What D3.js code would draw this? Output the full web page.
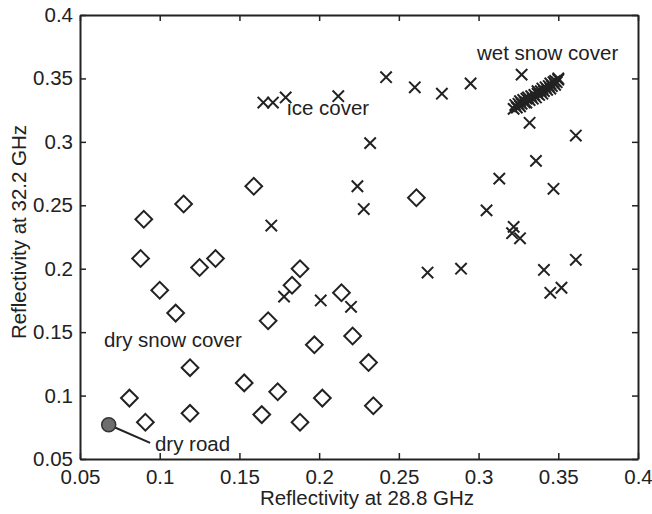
<html lang="en"><head>
<meta charset="utf-8">
<script src="https://d3js.org/d3.v7.min.js"></script>
<title>Reflectivity scatter</title>
<style>
  body { margin: 0; background: #fff; }
  text { font-family: "Liberation Sans", Arial, sans-serif; fill: #222; }
</style>
</head>
<body>
<div id="my_dataviz"></div>
<script>

// dry snow cover (diamonds): reflectivity at 28.8 GHz / 32.2 GHz
const drySnowX = [0.090, 0.115, 0.159, 0.088, 0.125, 0.135, 0.100, 0.110, 0.188, 0.183,
                  0.168, 0.197, 0.214, 0.221, 0.231, 0.119, 0.153, 0.174, 0.202, 0.081,
                  0.091, 0.119, 0.164, 0.188, 0.234, 0.261];
const drySnowY = [0.239, 0.251, 0.265, 0.208, 0.201, 0.208, 0.183, 0.165, 0.200, 0.187,
                  0.159, 0.140, 0.181, 0.147, 0.126, 0.122, 0.110, 0.103, 0.098, 0.098,
                  0.079, 0.086, 0.085, 0.079, 0.092, 0.256];

// ice cover (crosses)
const iceX = [0.165, 0.171, 0.179, 0.212, 0.242, 0.260, 0.277, 0.295, 0.327, 0.232,
              0.332, 0.361, 0.336, 0.313, 0.347, 0.224, 0.228, 0.305, 0.322, 0.321,
              0.326, 0.170, 0.268, 0.289, 0.341, 0.361, 0.345, 0.352, 0.178, 0.201,
              0.220];
const iceY = [0.331, 0.331, 0.335, 0.336, 0.351, 0.343, 0.338, 0.346, 0.353, 0.299,
              0.315, 0.305, 0.285, 0.271, 0.263, 0.265, 0.247, 0.246, 0.233, 0.228,
              0.224, 0.234, 0.197, 0.200, 0.199, 0.207, 0.181, 0.185, 0.178, 0.175,
              0.170];

// wet snow cover (dense crosses)
const wetX = [0.322, 0.323, 0.324, 0.325, 0.326, 0.326, 0.327, 0.328, 0.329, 0.330,
              0.330, 0.331, 0.332, 0.333, 0.334, 0.335, 0.336, 0.337, 0.337, 0.338,
              0.339, 0.340, 0.340, 0.341, 0.342, 0.343, 0.344, 0.345, 0.345, 0.346,
              0.347, 0.348, 0.348, 0.349, 0.350, 0.350];
const wetY = [0.326, 0.329, 0.327, 0.330, 0.328, 0.332, 0.330, 0.333, 0.331, 0.334,
              0.331, 0.335, 0.333, 0.336, 0.334, 0.337, 0.335, 0.338, 0.340, 0.337,
              0.340, 0.338, 0.342, 0.340, 0.343, 0.341, 0.344, 0.342, 0.346, 0.344,
              0.347, 0.345, 0.348, 0.347, 0.349, 0.350];

// dry road
const dryRoad = [0.068, 0.077];

const tickValues = [0.05, 0.1, 0.15, 0.2, 0.25, 0.3, 0.35, 0.4];
const tickLabels = ["0.05", "0.1", "0.15", "0.2", "0.25", "0.3", "0.35", "0.4"];

const margin = {top: 15, right: 14, bottom: 55, left: 80},
      width = 652 - margin.left - margin.right,
      height = 514 - margin.top - margin.bottom;

const fontSize = "20.5px";

const svg = d3.select("#my_dataviz")
  .append("svg")
    .attr("width", 652)
    .attr("height", 514)
  .append("g")
    .attr("transform", `translate(${margin.left},${margin.top})`);

const x = d3.scaleLinear().domain([0.05, 0.4]).range([0, width]);
const y = d3.scaleLinear().domain([0.05, 0.4]).range([height, 0]);
const fmt = d => tickLabels[tickValues.indexOf(d)];

// axes, matlab style box with inward ticks
const xAxis = svg.append("g")
  .attr("transform", `translate(0,${height})`)
  .call(d3.axisBottom(x).tickValues(tickValues).tickFormat(fmt).tickSizeInner(-6).tickSizeOuter(0).tickPadding(10));
const yAxis = svg.append("g")
  .call(d3.axisLeft(y).tickValues(tickValues).tickFormat(fmt).tickSizeInner(-6).tickSizeOuter(0).tickPadding(7));
const topAxis = svg.append("g")
  .call(d3.axisTop(x).tickValues(tickValues).tickFormat("").tickSizeInner(-6).tickSizeOuter(0));
const rightAxis = svg.append("g")
  .attr("transform", `translate(${width},0)`)
  .call(d3.axisRight(y).tickValues(tickValues).tickFormat("").tickSizeInner(-6).tickSizeOuter(0));

[xAxis, yAxis, topAxis, rightAxis].forEach(a => {
  a.select(".domain").attr("stroke", "#222").attr("stroke-width", 2);
  a.selectAll(".tick line").attr("stroke", "#222").attr("stroke-width", 1.5);
  a.selectAll("text").style("font-size", fontSize).attr("fill", "#222")
    .style("font-family", '"Liberation Sans", Arial, sans-serif');
});

// axis labels
svg.append("text")
  .attr("x", width / 2 + 8)
  .attr("y", height + 46)
  .attr("text-anchor", "middle")
  .style("font-size", fontSize)
  .text("Reflectivity at 28.8 GHz");

svg.append("text")
  .attr("transform", `translate(-54,${height / 2 - 5}) rotate(-90)`)
  .attr("text-anchor", "middle")
  .style("font-size", fontSize)
  .text("Reflectivity at 32.2 GHz");

// diamonds
const diamond = d3.symbol(d3.symbolSquare, 140);
svg.selectAll(".dry")
  .data(drySnowX.map((d, i) => [d, drySnowY[i]]))
  .join("path")
    .attr("class", "dry")
    .attr("d", diamond)
    .attr("transform", d => `translate(${x(d[0])},${y(d[1])}) rotate(45)`)
    .attr("fill", "none")
    .attr("stroke", "#222")
    .attr("stroke-width", 2);

// crosses
const cross = d3.symbol(d3.symbolTimes, 86);
const crossData = iceX.map((d, i) => [d, iceY[i]])
  .concat(wetX.map((d, i) => [d, wetY[i]]));
svg.selectAll(".ice")
  .data(crossData)
  .join("path")
    .attr("class", "ice")
    .attr("d", cross)
    .attr("transform", d => `translate(${x(d[0])},${y(d[1])})`)
    .attr("fill", "none")
    .attr("stroke", "#222")
    .attr("stroke-width", 2);

// dry road marker + pointer
svg.append("line")
  .attr("x1", x(dryRoad[0])).attr("y1", y(dryRoad[1]))
  .attr("x2", x(0.094)).attr("y2", y(0.0627))
  .attr("stroke", "#222").attr("stroke-width", 2);
svg.append("circle")
  .attr("cx", x(dryRoad[0])).attr("cy", y(dryRoad[1]))
  .attr("r", 7)
  .attr("fill", "#6e6e6e")
  .attr("stroke", "#333")
  .attr("stroke-width", 1.5);

// annotations
const notes = [
  {text: "wet snow cover", x: 0.299, y: 0.3645},
  {text: "ice cover", x: 0.1799, y: 0.3212},
  {text: "dry snow cover", x: 0.065, y: 0.1384},
  {text: "dry road", x: 0.097, y: 0.0564}
];
svg.selectAll(".note")
  .data(notes)
  .join("text")
    .attr("class", "note")
    .attr("x", d => x(d.x))
    .attr("y", d => y(d.y))
    .style("font-size", fontSize)
    .text(d => d.text);

</script>
</body>
</html>
